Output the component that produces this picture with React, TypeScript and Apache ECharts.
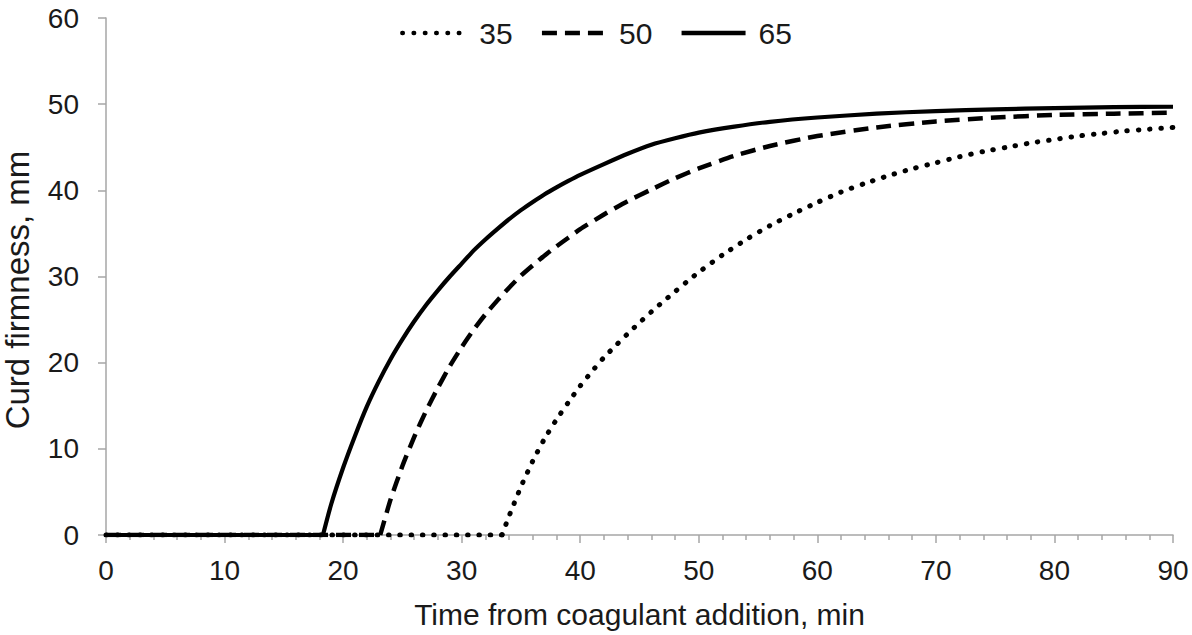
import React, { useEffect, useRef } from "react";
import * as echarts from "echarts";

const xTicks = [0, 10, 20, 30, 40, 50, 60, 70, 80, 90];
const yTicks = [0, 10, 20, 30, 40, 50, 60];
const seriesNames = ["35", "50", "65"];

const s35: [number, number][] = [
  [0, 0], [33.4, 0], [34, 2.2], [35, 5.6], [36, 8.6], [37, 11.2], [38, 13.4], [39, 15.4],
  [40, 17.3], [41, 19.0], [42, 20.6], [43, 22.0], [44, 23.35], [45, 24.65], [46, 25.9],
  [47, 27.1], [48, 28.25], [49, 29.4], [50, 30.5], [52, 32.5], [54, 34.3], [56, 35.9],
  [58, 37.3], [60, 38.6], [62, 39.8], [64, 40.8], [66, 41.7], [68, 42.5], [70, 43.2],
  [72, 43.9], [74, 44.5], [76, 45.0], [78, 45.5], [80, 45.9], [82, 46.3], [84, 46.6],
  [86, 46.9], [88, 47.1], [90, 47.3],
];

const s50: [number, number][] = [
  [0, 0], [23.13, 0], [24, 4.1], [25, 8.0], [26, 11.4], [27, 14.4], [28, 17.1], [29, 19.6],
  [30, 21.8], [31, 23.8], [32, 25.6], [33, 27.2], [34, 28.7], [35, 30.1], [36, 31.3],
  [37, 32.45], [38, 33.5], [39, 34.5], [40, 35.5], [42, 37.2], [44, 38.75], [46, 40.1],
  [48, 41.4], [50, 42.55], [53, 44.0], [56, 45.15], [60, 46.3], [65, 47.3], [70, 48.0],
  [75, 48.45], [80, 48.75], [85, 48.9], [90, 49.0],
];

const s65: [number, number][] = [
  [0, 0], [18.3, 0], [19, 3.6], [20, 7.8], [21, 11.5], [22, 14.9], [23, 17.8], [24, 20.4],
  [25, 22.7], [26, 24.8], [27, 26.7], [28, 28.4], [29, 30.0], [30, 31.5], [31, 33.0],
  [32, 34.3], [33, 35.5], [34, 36.65], [35, 37.7], [36, 38.65], [37, 39.55], [38, 40.35],
  [39, 41.1], [40, 41.8], [42, 43.05], [44, 44.25], [46, 45.3], [48, 46.05], [50, 46.7],
  [53, 47.4], [56, 47.95], [60, 48.45], [65, 48.9], [70, 49.2], [75, 49.4], [80, 49.55],
  [85, 49.65], [90, 49.7],
];

const seriesData = [s35, s50, s65];
const lineTypes: any[] = [[0.5, 10.8], [15, 8], "solid"];
const lineWidths = [5, 4.5, 4.2];
const lineCaps = ["round", "butt", "butt"];

export default function App() {
  const ref = useRef<HTMLDivElement>(null);
  useEffect(() => {
    if (!ref.current) return;
    const chart = echarts.init(ref.current, null, { renderer: "svg" });
    const font = "'Liberation Sans', Arial, sans-serif";
    const txt = "#1a1a1a";
    const axisGray = "#a6a6a6";

    const series: any[] = [];
    seriesNames.forEach((name, i) => {
      const data = seriesData[i];
      // onset = last point where the curve is still at zero
      let onset = 0;
      data.forEach((p, k) => {
        if (p[1] === 0) onset = k;
      });
      const lineStyle = {
        color: "#000000",
        width: lineWidths[i],
        type: lineTypes[i],
        cap: lineCaps[i],
        join: "round",
      };
      const common = {
        name,
        type: "line",
        showSymbol: false,
        symbol: "none",
        z: 3 + i,
        lineStyle,
        itemStyle: { color: "#000000" },
      };
      series.push({ ...common, data: data.slice(0, onset + 1), smooth: false });
      series.push({ ...common, data: data.slice(onset), smooth: 0.2 });
    });

    chart.setOption({
      animation: false,
      backgroundColor: "#ffffff",
      textStyle: { fontFamily: font },
      grid: {
        left: 106,
        right: 19,
        top: 18,
        bottom: 100,
        containLabel: false,
        outerBoundsMode: "none",
      },
      legend: {
        top: 13,
        left: "center",
        itemWidth: 64,
        itemHeight: 14,
        itemGap: 27,
        itemStyle: { opacity: 0 },
        lineStyle: { width: 4.5 },
        textStyle: { fontSize: 30, color: txt, fontFamily: font, padding: [0, 0, 0, 8] },
        data: seriesNames,
      },
      xAxis: {
        type: "value",
        min: xTicks[0],
        max: xTicks[xTicks.length - 1],
        interval: 10,
        name: "Time from coagulant addition, min",
        nameLocation: "middle",
        nameGap: 64,
        nameTextStyle: { fontSize: 30, color: txt, fontFamily: font },
        axisLine: { lineStyle: { color: axisGray, width: 1.5 } },
        axisTick: { show: true, length: 8, lineStyle: { color: axisGray, width: 1.5 } },
        minorTick: { show: true, splitNumber: 5, length: 5, lineStyle: { color: axisGray, width: 1.5 } },
        splitLine: { show: false },
        axisLabel: { fontSize: 28, color: txt, margin: 21, fontFamily: font },
      },
      yAxis: {
        type: "value",
        min: yTicks[0],
        max: yTicks[yTicks.length - 1],
        interval: 10,
        name: "Curd firmness, mm",
        nameLocation: "middle",
        nameGap: 72,
        nameTextStyle: { fontSize: 33, color: txt, fontFamily: font, padding: [0, 27, 0, 0] },
        axisLine: { show: true, lineStyle: { color: axisGray, width: 1.5 } },
        axisTick: { show: true, length: 8, lineStyle: { color: axisGray, width: 1.5 } },
        splitLine: { show: false },
        axisLabel: { fontSize: 28, color: txt, margin: 27, fontFamily: font },
      },
      series,
    });
    return () => chart.dispose();
  }, []);
  return (
    <div
      ref={ref}
      style={{ position: "fixed", left: 0, top: 0, width: 1192, height: 635, background: "#fff" }}
    />
  );
}
